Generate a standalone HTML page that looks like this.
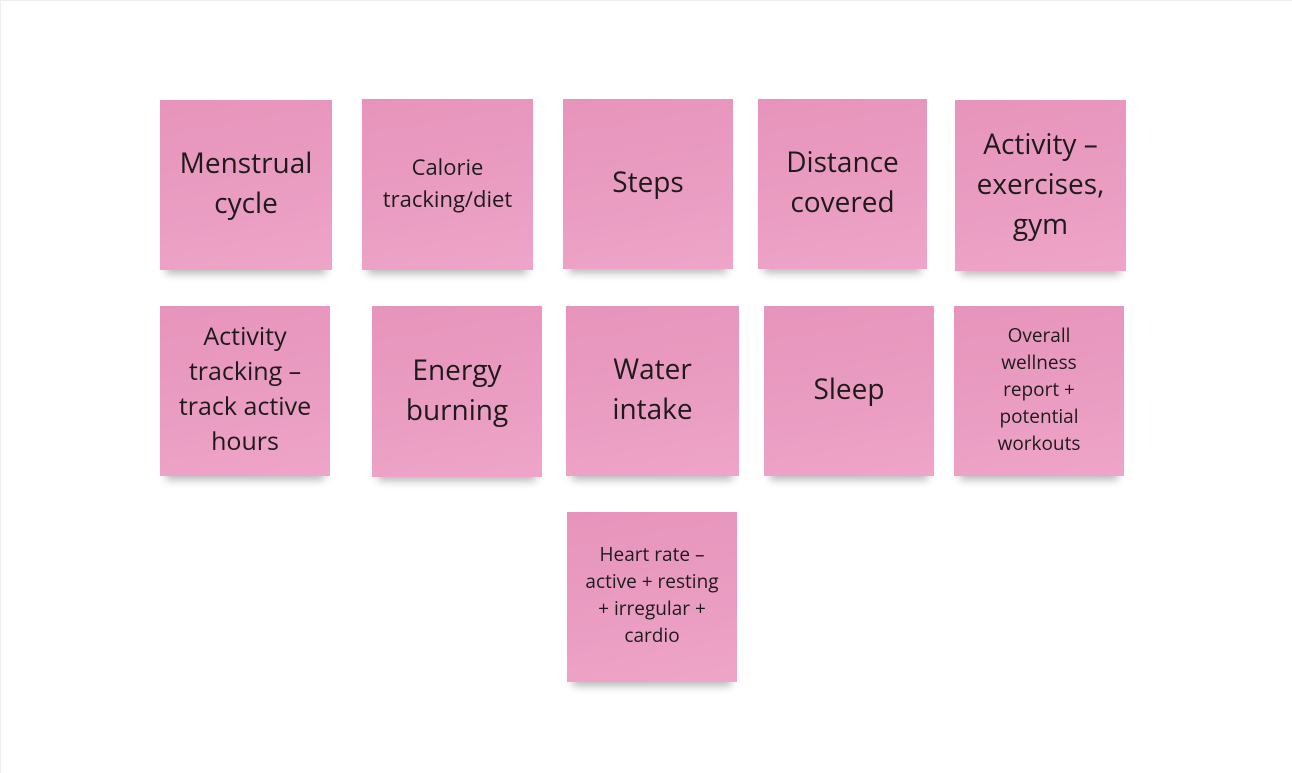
<!DOCTYPE html>
<html><head><style>
html,body{margin:0;padding:0;}
body{width:1292px;height:773px;background:#fff;position:relative;overflow:hidden;font-family:"Open Sans","Liberation Sans",sans-serif;}
.b{position:absolute;left:0;top:0;width:1292px;height:773px;border-left:1px solid #eee;border-top:1px solid #eee;box-sizing:border-box;}
.n{position:absolute;box-sizing:border-box;padding-bottom:4px;background:linear-gradient(170deg,#e794bb 0%,#ea9cc1 55%,#eea5c8 100%);display:flex;align-items:center;justify-content:center;text-align:center;color:#1d1a1c;box-shadow:0 10px 8px -6px rgba(0,0,0,0.28);}
.l{font-size:28px;line-height:40px;}
.m{font-size:22px;line-height:32px;}
.s{font-size:19px;line-height:27px;}
</style></head><body>
<div class="b"></div>
<div class="n l" style="left:160px;top:100px;width:172px;height:170px">Menstrual<br>cycle</div>
<div class="n m" style="left:362px;top:99px;width:171px;height:171px">Calorie<br>tracking/diet</div>
<div class="n l" style="left:563px;top:99px;width:170px;height:170px">Steps</div>
<div class="n l" style="left:758px;top:99px;width:169px;height:170px">Distance<br>covered</div>
<div class="n l" style="left:955px;top:100px;width:171px;height:171px">Activity –<br>exercises,<br>gym</div>
<div class="n m" style="left:160px;top:306px;width:170px;height:170px;font-size:25px;line-height:35px">Activity<br>tracking –<br>track active<br>hours</div>
<div class="n l" style="left:372px;top:306px;width:170px;height:171px">Energy<br>burning</div>
<div class="n l" style="left:566px;top:306px;width:173px;height:170px">Water<br>intake</div>
<div class="n l" style="left:764px;top:306px;width:170px;height:170px">Sleep</div>
<div class="n s" style="left:954px;top:306px;width:170px;height:170px">Overall<br>wellness<br>report +<br>potential<br>workouts</div>
<div class="n s" style="left:567px;top:512px;width:170px;height:170px">Heart rate –<br>active + resting<br>+ irregular +<br>cardio</div>
</body></html>
